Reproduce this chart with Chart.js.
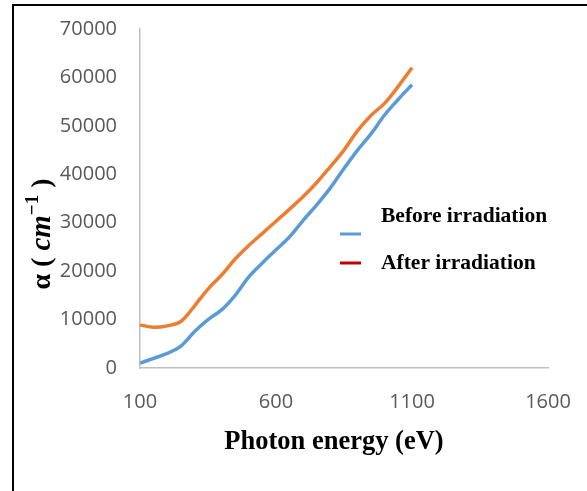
<!DOCTYPE html>
<html>
<head>
<meta charset="utf-8">
<script src="https://cdn.jsdelivr.net/npm/chart.js@4"></script>
<style>
  html, body { margin: 0; padding: 0; background: #fff; overflow: hidden; }
  #wrap { position: relative; width: 587px; height: 491px; }
  #frame {
    position: absolute; left: 12px; top: 4px; width: 600px; height: 520px;
    border-left: 2.5px solid #000; border-top: 2.5px solid #000; pointer-events: none;
  }
  canvas { position: absolute; left: 0; top: 0; }
</style>
</head>
<body>
<div id="wrap">
  <canvas id="chart" width="587" height="491"></canvas>
  <div id="frame"></div>
</div>
<script>
// photon energy (eV)
const energies = [100, 150, 200, 250, 300, 350, 400, 450, 500, 550, 600, 650, 700, 750, 800, 850, 900, 950, 1000, 1050, 1100];
// absorption coefficient (cm^-1)
const beforeIrr = [1000, 2000, 3000, 4500, 7500, 10000, 12000, 15000, 18800, 21700, 24400, 27100, 30500, 33700, 37200, 41200, 45000, 48400, 52300, 55500, 58500];
const afterIrr = [8900, 8400, 8700, 9600, 12800, 16300, 19200, 22500, 25300, 27800, 30300, 32800, 35400, 38300, 41600, 45000, 49000, 52200, 54700, 58200, 62000];
const xTickValues = [100, 600, 1100, 1600];

const seriesNames = ['Before irradiation', 'After irradiation'];
const legendColors = ['#5b9bd5', '#c00000'];

const toPoints = vals => energies.map((e, i) => ({ x: e, y: vals[i] }));

const serif = '"Liberation Serif", "DejaVu Serif", serif';
const tickFont = { family: '"Open Sans", "Liberation Sans", sans-serif', size: 20 };

const titlesPlugin = {
  id: 'titles',
  afterDraw(chart) {
    const ctx = chart.ctx;
    ctx.save();
    ctx.fillStyle = '#000';

    // x axis title
    ctx.font = `bold 26.5px ${serif}`;
    ctx.textAlign = 'center';
    ctx.textBaseline = 'middle';
    ctx.fillText('Photon energy (eV)', 334, 442);

    // y axis title, rotated, with superscript
    ctx.save();
    ctx.translate(50, 234);
    ctx.rotate(-Math.PI / 2);
    ctx.textBaseline = 'alphabetic';
    ctx.textAlign = 'left';
    const parts = [
      { t: 'α ( ', f: `bold 28px ${serif}`, dy: 0 },
      { t: 'cm', f: `bold italic 29px ${serif}`, dy: 0 },
      { t: '−1', f: `bold 19px ${serif}`, dy: -12 },
      { t: ' )', f: `bold 28px ${serif}`, dy: 0 }
    ];
    let total = 0;
    parts.forEach(p => { ctx.font = p.f; p.w = ctx.measureText(p.t).width; total += p.w; });
    let x = -total / 2;
    parts.forEach(p => {
      ctx.font = p.f;
      ctx.fillText(p.t, x, p.dy);
      x += p.w;
    });
    ctx.restore();

    // legend
    ctx.font = `bold 21.5px ${serif}`;
    ctx.textAlign = 'left';
    ctx.textBaseline = 'middle';
    ctx.lineWidth = 3;
    const rows = [
      { lineY: 234, textY: 216 },
      { lineY: 263, textY: 263 }
    ];
    rows.forEach((r, i) => {
      ctx.strokeStyle = legendColors[i];
      ctx.beginPath();
      ctx.moveTo(340, r.lineY);
      ctx.lineTo(361, r.lineY);
      ctx.stroke();
      ctx.fillText(seriesNames[i], 381, r.textY);
    });
    ctx.restore();
  }
};

new Chart(document.getElementById('chart'), {
  type: 'line',
  data: {
    datasets: [
      {
        label: seriesNames[0],
        data: toPoints(beforeIrr),
        borderColor: '#5b9bd5',
        borderWidth: 3.5,
        pointRadius: 0,
        tension: 0.35,
        fill: false
      },
      {
        label: seriesNames[1],
        data: toPoints(afterIrr),
        borderColor: '#ed7d31',
        borderWidth: 3.5,
        pointRadius: 0,
        tension: 0.35,
        fill: false
      }
    ]
  },
  options: {
    responsive: false,
    animation: false,
    layout: { padding: { left: 0, top: 29, right: 39, bottom: 0 } },
    plugins: { legend: { display: false }, tooltip: { enabled: false } },
    scales: {
      x: {
        type: 'linear',
        min: 100,
        max: 1600,
        afterFit: s => { s.height = 123; },
        afterBuildTicks: s => { s.ticks = xTickValues.map(v => ({ value: v })); },
        grid: { display: false },
        border: { display: true, color: '#bfbfbf', width: 1.5 },
        ticks: {
          color: '#595959',
          padding: 14,
          maxRotation: 0,
          font: tickFont,
          callback: v => String(v)
        }
      },
      y: {
        min: 0,
        max: 70000,
        afterFit: s => { s.width = 140; },
        grid: { display: true, drawOnChartArea: false, drawTicks: true, tickLength: 23, tickColor: 'rgba(0,0,0,0)' },
        border: { display: true, color: '#bfbfbf', width: 1.5 },
        ticks: {
          stepSize: 10000,
          color: '#595959',
          padding: 0,
          font: tickFont,
          callback: v => String(v)
        }
      }
    }
  },
  plugins: [titlesPlugin]
});
</script>
</body>
</html>
